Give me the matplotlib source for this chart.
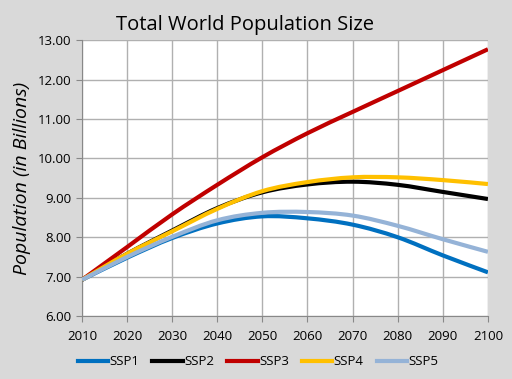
import matplotlib
matplotlib.use("Agg")
import matplotlib.pyplot as plt
from matplotlib.path import Path
from matplotlib.patches import PathPatch
from matplotlib.lines import Line2D

years = [2010, 2020, 2030, 2040, 2050, 2060, 2070, 2080, 2090, 2100]
ssp1 = [6.92, 7.48, 7.98, 8.35, 8.53, 8.48, 8.32, 8.00, 7.54, 7.11]
ssp2 = [6.92, 7.58, 8.17, 8.74, 9.14, 9.34, 9.41, 9.33, 9.15, 8.97]
ssp3 = [6.92, 7.75, 8.58, 9.33, 10.03, 10.64, 11.18, 11.71, 12.24, 12.77]
ssp4 = [6.92, 7.58, 8.15, 8.72, 9.17, 9.40, 9.52, 9.52, 9.45, 9.35]
ssp5 = [6.92, 7.50, 8.01, 8.43, 8.62, 8.64, 8.55, 8.29, 7.95, 7.63]
names = ["SSP1", "SSP2", "SSP3", "SSP4", "SSP5"]
colors = ["#0070C0", "#000000", "#C00000", "#FFC000", "#95B3D7"]
yticks = [6, 7, 8, 9, 10, 11, 12, 13]


def smooth_path(xs, ys):
    # Catmull-Rom style Bezier smoothing (like a spreadsheet "smoothed line")
    n = len(xs)
    verts = [(xs[0], ys[0])]
    codes = [Path.MOVETO]
    for i in range(n - 1):
        x0, y0 = (xs[i - 1], ys[i - 1]) if i > 0 else (xs[i], ys[i])
        x1, y1 = xs[i], ys[i]
        x2, y2 = xs[i + 1], ys[i + 1]
        x3, y3 = (xs[i + 2], ys[i + 2]) if i + 2 < n else (x2, y2)
        c1 = (x1 + (x2 - x0) / 6.0, y1 + (y2 - y0) / 6.0)
        c2 = (x2 - (x3 - x1) / 6.0, y2 - (y3 - y1) / 6.0)
        verts += [c1, c2, (x2, y2)]
        codes += [Path.CURVE4] * 3
    return Path(verts, codes)


plt.rcParams['font.family'] = ['Open Sans', 'DejaVu Sans']
fig = plt.figure(figsize=(5.12, 3.79), dpi=100, facecolor="#d9d9d9")
ax = fig.add_axes([0.160, 0.166, 0.793, 0.728])
ax.set_facecolor("white")
handles = []
for s, n, c in zip([ssp1, ssp2, ssp3, ssp4, ssp5], names, colors):
    patch = PathPatch(smooth_path(years, s), facecolor="none", edgecolor=c,
                      lw=3.0, capstyle="butt", zorder=3)
    ax.add_patch(patch)
    handles.append(Line2D([], [], color=c, lw=3.0, label=n))
ax.set_xlim(2010, 2100)
ax.set_ylim(6, 13)
ax.set_xticks(years)
ax.set_yticks(yticks)
ax.set_yticklabels([f"{v:.2f}" for v in yticks])
ax.grid(True, color="#b0b0b0", lw=1.0)
ax.set_axisbelow(True)
for sp in ["top", "right"]:
    ax.spines[sp].set_visible(False)
for sp in ["left", "bottom"]:
    ax.spines[sp].set_color("#888888")
ax.tick_params(colors="#888888", labelcolor="black", labelsize=9.5, length=4, direction="out")
ax.tick_params(axis="x", pad=6)
ax.set_ylabel("Population (in Billions)", style="italic", fontsize=14, labelpad=5)
fig.text(0.479, 0.935, "Total World Population Size", ha="center", va="center", fontsize=14.5)
fig.legend(handles=handles, loc="center", bbox_to_anchor=(0.504, 0.045), ncol=5, frameon=False,
           fontsize=9.5, handlelength=2.3, handletextpad=0.1, columnspacing=1.0)
fig.savefig("out.png", dpi=100, facecolor=fig.get_facecolor())
